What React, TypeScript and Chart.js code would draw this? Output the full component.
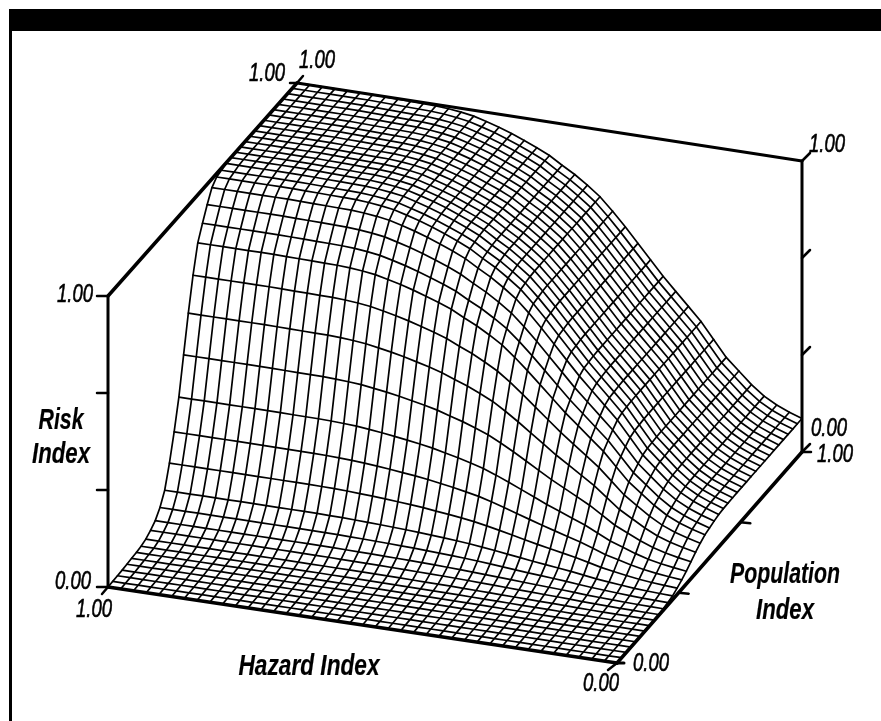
import React, { useEffect, useRef } from "react";
import { Chart, registerables } from "chart.js";

Chart.register(...registerables);

// Risk read along the far edge (population = 1), hazard running 1.00 -> 0.00 in 40 cells
const riskAlongHazard = [
  1, 1, 1, 1, 1, 1, 1, 0.999, 0.998, 0.997, 0.996, 0.995, 0.992, 0.987, 0.98, 0.968, 0.955, 0.94, 0.923, 0.905,
  0.885, 0.858, 0.833, 0.803, 0.77, 0.727, 0.68, 0.63, 0.58, 0.53, 0.485, 0.44, 0.395, 0.34, 0.285, 0.245, 0.205,
  0.172, 0.148, 0.13, 0.115,
];
// Risk read along the left edge (hazard = 1), population running 0.00 -> 1.00 in 40 cells
const riskAlongPopulation = [
  0, 0.001, 0.002, 0.003, 0.005, 0.007, 0.009, 0.012, 0.018, 0.03, 0.045, 0.072, 0.113, 0.188, 0.277, 0.378, 0.505,
  0.63, 0.742, 0.835, 0.884, 0.93, 0.97, 0.988, 0.993, 0.998, 1, 1, 1, 1, 1, 1, 1, 1, 1, 1, 1, 1, 1, 1, 1,
];
const riskTicks = [0, 1 / 3, 2 / 3, 1];
const populationTicks = [1 / 3, 2 / 3];

const digitLabels = [
  { text: "1.00", x: 267, y: 74 },
  { text: "1.00", x: 317, y: 61 },
  { text: "1.00", x: 75, y: 295 },
  { text: "1.00", x: 827, y: 145 },
  { text: "0.00", x: 829, y: 429 },
  { text: "1.00", x: 835, y: 455 },
  { text: "0.00", x: 651, y: 664 },
  { text: "0.00", x: 601, y: 684 },
  { text: "0.00", x: 73, y: 582 },
  { text: "1.00", x: 94, y: 610 },
];
const titleLabels = [
  { text: "Hazard Index", x: 309, y: 667, w: 141 },
  { text: "Risk", x: 61, y: 421, w: 45 },
  { text: "Index", x: 61, y: 455, w: 58 },
  { text: "Population", x: 785, y: 575, w: 110 },
  { text: "Index", x: 785, y: 611, w: 58 },
];

// Projection of the box: u = 1 - hazard, p = population, r = risk
const C00 = [108, 587];
const C10 = [617, 663];
const C11 = [802, 452];
const C01 = [297, 374];
const RISE = 291;
function project(u: number, p: number, r: number) {
  const a = (1 - u) * (1 - p), b = u * (1 - p), c = u * p, d = (1 - u) * p;
  return {
    x: a * C00[0] + b * C10[0] + c * C11[0] + d * C01[0],
    y: a * C00[1] + b * C10[1] + c * C11[1] + d * C01[1] - RISE * r,
  };
}

function line(data: { x: number; y: number }[], borderWidth: number) {
  return { data, borderColor: "#000", borderWidth, showLine: true, pointRadius: 0, fill: false, tension: 0, borderCapStyle: "round" };
}

function fitText(ctx: CanvasRenderingContext2D, text: string, x: number, y: number, font: string, w: number, stroke: number) {
  ctx.save();
  ctx.font = font;
  ctx.textAlign = "center";
  ctx.textBaseline = "middle";
  ctx.fillStyle = "#000";
  ctx.strokeStyle = "#000";
  ctx.lineWidth = stroke;
  const sx = w / ctx.measureText(text).width;
  ctx.translate(x, y);
  ctx.scale(sx, 1);
  ctx.fillText(text, 0, 0);
  if (stroke > 0) ctx.strokeText(text, 0, 0);
  ctx.restore();
}

const framePlugin = {
  id: "frame",
  beforeDatasetsDraw(chart: any) {
    const { ctx } = chart;
    ctx.save();
    ctx.fillStyle = "#000";
    ctx.fillRect(9, 9, 872, 22);
    ctx.fillRect(9, 9, 3, 712);
    ctx.restore();
  },
  afterDatasetsDraw(chart: any) {
    const { ctx } = chart;
    digitLabels.forEach((l) => fitText(ctx, l.text, l.x, l.y, 'italic 25px "Liberation Sans"', 36, 0.6));
    titleLabels.forEach((l) => fitText(ctx, l.text, l.x, l.y, 'italic bold 30px "Liberation Sans"', l.w, 0.2));
  },
};

export default function App() {
  const ref = useRef<HTMLCanvasElement>(null);
  useEffect(() => {
    document.body.style.margin = "0";
    const n = riskAlongHazard.length;
    const risk = (i: number, j: number) => riskAlongHazard[i] * riskAlongPopulation[j];
    const datasets: any[] = [];
    for (let j = 0; j < n; j++) {
      const pts = [];
      for (let i = 0; i < n; i++) pts.push(project(i / (n - 1), j / (n - 1), risk(i, j)));
      datasets.push(line(pts, 1.7));
    }
    for (let i = 0; i < n; i++) {
      const pts = [];
      for (let j = 0; j < n; j++) pts.push(project(i / (n - 1), j / (n - 1), risk(i, j)));
      datasets.push(line(pts, 1.7));
    }
    // box axes
    const axes = [
      [[0, 0, 0], [1, 0, 0], 3.5],
      [[1, 0, 0], [1, 1, 0], 3.5],
      [[1, 1, 0], [1, 1, 1], 3],
      [[1, 1, 1], [0, 1, 1], 3],
      [[0, 1, 1], [0, 0, 1], 3.5],
      [[0, 0, 1], [0, 0, 0], 3],
    ] as [number[], number[], number][];
    axes.forEach(([a, b, w]) => datasets.push(line([project(a[0], a[1], a[2]), project(b[0], b[1], b[2])], w)));
    // ticks
    const tick = (u: number, p: number, r: number, dx: number, dy: number, w = 2.5) => {
      const s = project(u, p, r);
      datasets.push(line([s, { x: s.x + dx, y: s.y + dy }], w));
    };
    riskTicks.forEach((r) => tick(0, 0, r, -11, 0));
    riskTicks.forEach((r) => tick(1, 1, r, 8, -8));
    populationTicks.forEach((p) => tick(1, p, 0, 10, 1));
    tick(1, 0, 0, 7, 0, 3);
    tick(1, 0, 0, -9, 7, 2.5);
    tick(0, 0, 0, -6, 7, 2.5);
    tick(1, 1, 0, 9, 0, 2.5);
    tick(0, 1, 1, -7, 0, 2.5);
    tick(0, 1, 1, 6, -7, 2.5);

    const chart = new Chart(ref.current as HTMLCanvasElement, {
      type: "scatter",
      data: { datasets },
      options: {
        animation: false,
        responsive: false,
        layout: { padding: 0 },
        plugins: { legend: { display: false }, tooltip: { enabled: false } },
        scales: {
          x: { type: "linear", min: 0, max: 881, display: false },
          y: { type: "linear", min: 0, max: 721, reverse: true, display: false },
        },
      },
      plugins: [framePlugin],
    } as any);
    return () => chart.destroy();
  }, []);
  return <canvas ref={ref} width={881} height={721} style={{ display: "block" }} />;
}
